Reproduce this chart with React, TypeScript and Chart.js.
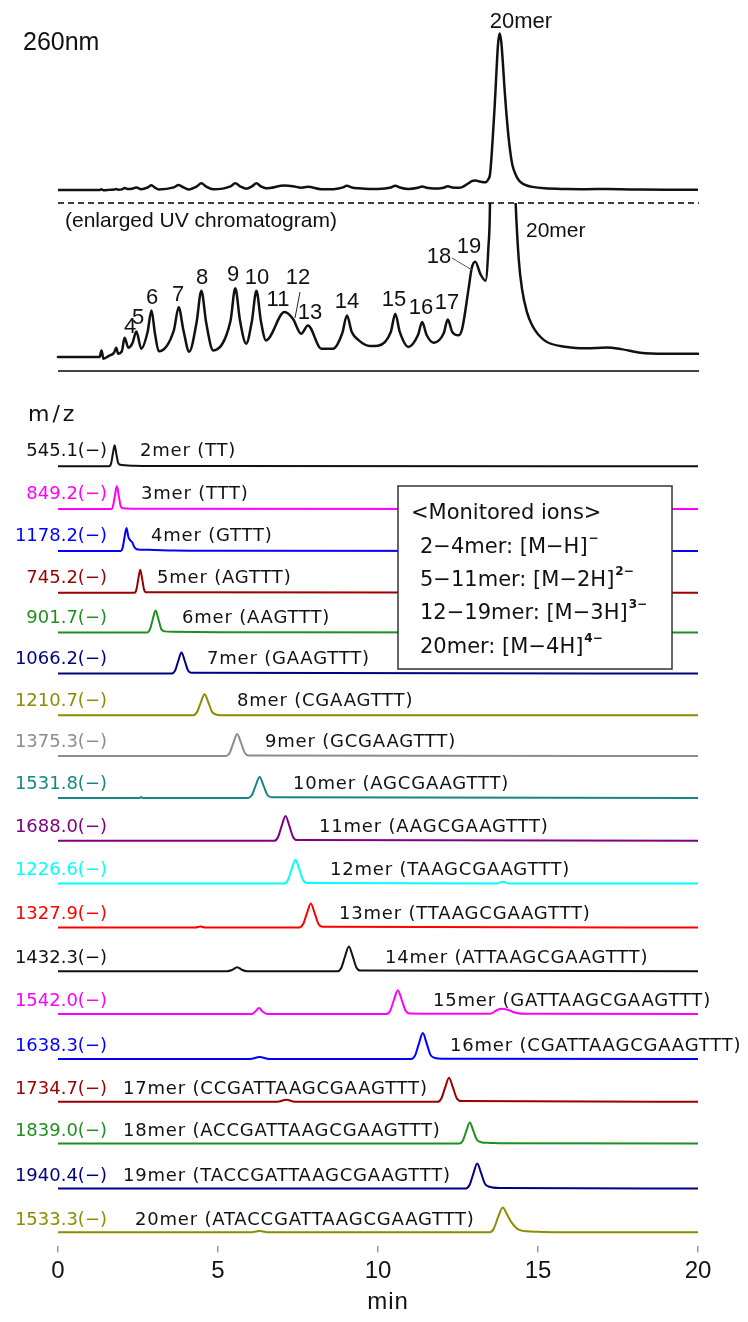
import React, { useEffect, useRef } from "react";
import { Chart, registerables } from "chart.js";

Chart.register(...registerables);

// ---------------- data ----------------
const TIME_MIN = 0;
const TIME_MAX = 20;
const TIME_STEP = 5;

// UV 260 nm chromatogram (time in min, absorbance in mAU)
const UV_TIME = [
  0, 1.3, 1.36, 1.42, 1.6, 1.75, 1.82, 1.88, 2.0, 2.08, 2.2, 2.32, 2.45, 2.6, 2.8, 2.92, 3.03, 3.15,
  3.62, 3.77, 3.92, 4.1, 4.33, 4.48, 4.63, 4.85, 5.39, 5.54, 5.69, 5.88, 6.06, 6.2, 6.34, 6.5, 7.08,
  7.34, 7.6, 7.81, 8.23, 8.6, 8.88, 9.03, 9.18, 9.4, 9.75, 10.0, 10.4, 10.54, 10.68, 10.95, 11.25,
  11.38, 11.52, 11.74, 12.05, 12.18, 12.32, 12.52, 12.63, 12.83, 12.93, 13.04, 13.2, 13.36, 13.45,
  13.5, 13.55, 13.6, 13.65, 13.7, 13.75, 13.8, 13.85, 13.9, 13.95, 14.0, 14.05, 14.1, 14.15, 14.2,
  14.3, 14.4, 14.5, 14.65, 14.82, 15.2, 15.9, 16.5, 17.15, 17.6, 18.2, 19.0, 20.0,
];
const UV_MAU = [
  0, 0, 0.42, -0.11, 0.08, 0.27, 0.59, 0.21, 0.4, 1.23, 0.59, 0.85, 1.63, 0.53, 1.6, 2.97, 1.5, 0.36,
  1.7, 3.18, 1.7, 0.34, 2.2, 4.24, 2.2, 0.42, 2.3, 4.39, 2.3, 0.85, 2.3, 4.24, 2.3, 1.06, 2.87,
  2.44, 1.48, 2.01, 0.53, 0.53, 1.5, 2.65, 1.6, 1.06, 0.7, 0.72, 1.6, 2.76, 1.6, 0.64, 1.4,
  2.23, 1.4, 0.91, 1.5, 2.39, 1.6, 1.38, 1.8, 4.35, 5.69, 6.09, 5.3, 4.88, 7.0,
  9.9, 22, 38, 55, 75, 93, 100, 95, 82, 66, 52, 40, 30, 22, 16,
  9.9, 6.2, 4.35, 2.9, 2.01, 1.06, 0.64, 0.55, 0.6, 0.5, 0.27, 0.21, 0.21,
];
const UV_ENLARGE = 10;

const UV_PEAK_LABELS = ["4", "5", "6", "7", "8", "9", "10", "11", "12", "13", "14", "15", "16", "17", "18", "19"];

// Extracted ion chromatograms: [time (min), relative intensity (%)]
const MER2 = [[0, 0], [1.6, 0], [1.66, 12], [1.715, 53], [1.77, 88], [1.825, 50], [1.88, 14], [1.95, 6], [2.1, 4], [2.4, 2], [3, 1], [5, 0.5], [20, 0]];
const MER3 = [[0, 0], [1.66, 0], [1.72, 13], [1.78, 58], [1.84, 96], [1.9, 55], [1.96, 12], [2.03, 3], [2.3, 1], [20, 0]];
const MER4 = [[0, 0], [1.96, 0], [2.02, 13], [2.08, 58], [2.14, 96], [2.2, 58], [2.26, 44], [2.32, 36], [2.39, 15], [2.46, 7], [2.6, 5], [3.0, 4], [3.6, 2], [5, 1], [20, 0]];
const MER5 = [[0, 0], [2.39, 0], [2.45, 13], [2.51, 58], [2.57, 96], [2.63, 58], [2.69, 13], [2.76, 2], [20, 0]];
const MER6 = [[0, 0], [2.78, 0], [2.87, 12], [2.96, 55], [3.05, 92], [3.14, 55], [3.23, 14], [3.33, 5], [3.6, 3], [5, 1], [20, 0]];
const MER7 = [[0, 0], [3.56, 0], [3.66, 12], [3.76, 53], [3.86, 88], [3.96, 53], [4.06, 13], [4.16, 3], [20, 0]];
const MER8 = [[0, 0], [4.22, 0], [4.34, 12], [4.46, 53], [4.58, 88], [4.7, 53], [4.82, 13], [4.94, 3], [5.08, 0], [20, 0]];
const MER9 = [[0, 0], [5.24, 0], [5.36, 12], [5.48, 55], [5.6, 92], [5.72, 55], [5.84, 13], [5.96, 2], [20, 0]];
const MER10 = [[0, 0], [2.55, 0], [2.6, 4], [2.65, 0], [5.94, 0], [6.06, 12], [6.18, 53], [6.3, 88], [6.42, 53], [6.54, 13], [6.66, 3], [20, 0]];
const MER11 = [[0, 0], [6.75, 0], [6.87, 14], [6.99, 62], [7.11, 104], [7.23, 62], [7.35, 15], [7.47, 3], [20, 0]];
const MER12 = [[0, 0], [7.06, 0], [7.18, 14], [7.3, 60], [7.42, 100], [7.54, 60], [7.66, 14], [7.78, 3], [13.7, 0], [13.9, 8], [14.1, 0], [20, 0]];
const MER13 = [[0, 0], [4.3, 0], [4.45, 4], [4.6, 0], [7.54, 0], [7.66, 14], [7.78, 60], [7.9, 100], [8.02, 60], [8.14, 14], [8.26, 3], [20, 0]];
const MER14 = [[0, 0], [5.3, 0], [5.45, 6], [5.6, 17], [5.75, 6], [5.9, 0], [8.73, 0], [8.85, 14], [8.97, 62], [9.09, 104], [9.21, 62], [9.33, 15], [9.45, 3], [20, 0]];
const MER15 = [[0, 0], [6.05, 0], [6.16, 10], [6.28, 25], [6.4, 10], [6.55, 0], [10.26, 0], [10.38, 14], [10.5, 60], [10.62, 100], [10.74, 60], [10.86, 15], [10.98, 3], [13.5, 1], [13.7, 15], [13.85, 22], [14.05, 18], [14.3, 6], [14.6, 1], [20, 0]];
const MER16 = [[0, 0], [6.0, 0], [6.3, 8], [6.6, 0], [11.04, 0], [11.16, 15], [11.28, 65], [11.4, 108], [11.52, 65], [11.64, 17], [11.78, 4], [12.0, 1], [20, 0]];
const MER17 = [[0, 0], [6.85, 0], [7.14, 8], [7.4, 0], [11.86, 0], [11.98, 14], [12.1, 60], [12.22, 100], [12.34, 60], [12.46, 15], [12.6, 3], [20, 0]];
const MER18 = [[0, 0], [12.54, 0], [12.65, 12], [12.76, 53], [12.87, 88], [12.98, 53], [13.09, 16], [13.22, 6], [13.5, 3], [13.9, 1], [20, 0]];
const MER19 = [[0, 0], [12.74, 0], [12.86, 14], [12.98, 62], [13.1, 104], [13.22, 65], [13.34, 20], [13.48, 7], [13.8, 2], [20, 0]];
const MER20 = [[0, 0], [6.0, 0], [6.3, 5], [6.6, 0], [13.5, 0], [13.62, 16], [13.76, 66], [13.9, 104], [14.04, 72], [14.18, 40], [14.32, 18], [14.46, 8], [14.65, 4], [15.0, 2], [15.5, 0.5], [20, 0]];

const MS_TRACES = [MER2, MER3, MER4, MER5, MER6, MER7, MER8, MER9, MER10, MER11, MER12, MER13, MER14, MER15, MER16, MER17, MER18, MER19, MER20];

const MZ_LABELS = [
  "545.1(−)", "849.2(−)", "1178.2(−)", "745.2(−)", "901.7(−)", "1066.2(−)", "1210.7(−)", "1375.3(−)",
  "1531.8(−)", "1688.0(−)", "1226.6(−)", "1327.9(−)", "1432.3(−)", "1542.0(−)", "1638.3(−)", "1734.7(−)",
  "1839.0(−)", "1940.4(−)", "1533.3(−)",
];
const MER_NAMES = [
  "2mer (TT)", "3mer (TTT)", "4mer (GTTT)", "5mer (AGTTT)", "6mer (AAGTTT)", "7mer (GAAGTTT)",
  "8mer (CGAAGTTT)", "9mer (GCGAAGTTT)", "10mer (AGCGAAGTTT)", "11mer (AAGCGAAGTTT)",
  "12mer (TAAGCGAAGTTT)", "13mer (TTAAGCGAAGTTT)", "14mer (ATTAAGCGAAGTTT)", "15mer (GATTAAGCGAAGTTT)",
  "16mer (CGATTAAGCGAAGTTT)", "17mer (CCGATTAAGCGAAGTTT)", "18mer (ACCGATTAAGCGAAGTTT)",
  "19mer (TACCGATTAAGCGAAGTTT)", "20mer (ATACCGATTAAGCGAAGTTT)",
];
const ION_TITLE = "<Monitored ions>";
const ION_LINES = ["2−4mer: [M−H]", "5−11mer: [M−2H]", "12−19mer: [M−3H]", "20mer: [M−4H]"];
const ION_CHARGES = ["−", "2−", "3−", "4−"];

// ---------------- layout & style ----------------
const W = 748;
const H = 1322;
const AREA_TOP = 10;
const AREA_BOTTOM = 1251;
const UV_BASE_PX = 190.7;
const UV_PX_PER_MAU = 1.57;
const ENL_BASE_PX = 358.3;
const ENL_CLIP_PX = 203;
const MS_BASE_PX = [468, 511, 553, 595, 635, 676, 718, 759, 801, 844, 887, 931, 975, 1018, 1063, 1106, 1148, 1193, 1237];
const MS_PX_PER_PCT = 0.24;
const MS_NAME_X = [140, 141, 151, 157, 182, 207, 237, 265, 293, 319, 330, 339, 385, 433, 450, 123, 123, 123, 135];
const UV_PEAK_LABEL_POS = [
  [130, 327], [138, 318], [152, 298], [178, 295], [202, 278], [233, 275], [257, 278], [278, 300],
  [298, 278], [310, 313], [347, 302], [394, 300], [421, 308], [447, 303], [439, 257], [469, 247],
];
const MS_COLORS = [
  "#111111", "#ff00ff", "#0000ff", "#990000", "#1f8f1f", "#000080", "#8c8c00", "#8c8c8c", "#188585",
  "#800080", "#00ffff", "#ff0000", "#111111", "#ff00ff", "#0000ff", "#990000", "#1f8f1f", "#000080", "#8c8c00",
];
const ARIAL = "'Liberation Sans', Arial, sans-serif";
const DEJAVU = "'DejaVu Sans', sans-serif";

const toChartY = (px: number) => AREA_BOTTOM - px;

function drawText(
  ctx: CanvasRenderingContext2D,
  s: string,
  x: number,
  y: number,
  font: string,
  color = "#111",
  align: CanvasTextAlign = "left",
  spacing = "0px"
) {
  ctx.font = font;
  ctx.fillStyle = color;
  ctx.textAlign = align;
  ctx.textBaseline = "middle";
  (ctx as any).letterSpacing = spacing;
  ctx.fillText(s, x, y);
  (ctx as any).letterSpacing = "0px";
}

const clipPlugin = {
  id: "enlargedClip",
  beforeDatasetDraw(chart: any, args: any) {
    const ds = chart.data.datasets[args.index];
    if (ds.enlarged) {
      const ctx = chart.ctx;
      ctx.save();
      ctx.beginPath();
      ctx.rect(0, ENL_CLIP_PX, W, H - ENL_CLIP_PX);
      ctx.clip();
    }
  },
  afterDatasetDraw(chart: any, args: any) {
    const ds = chart.data.datasets[args.index];
    if (ds.enlarged) chart.ctx.restore();
  },
};

const annotationPlugin = {
  id: "annotations",
  afterDatasetsDraw(chart: any) {
    const ctx: CanvasRenderingContext2D = chart.ctx;
    const { left, right } = chart.chartArea;
    ctx.save();

    // top panel texts
    drawText(ctx, "260nm", 23, 43, `25px ${ARIAL}`);
    drawText(ctx, "20mer", 521, 22, `22px ${ARIAL}`, "#111", "center");

    // dashed separator
    ctx.strokeStyle = "#000";
    ctx.lineWidth = 1.5;
    ctx.setLineDash([6, 4]);
    ctx.beginPath();
    ctx.moveTo(left, ENL_CLIP_PX);
    ctx.lineTo(right + 1, ENL_CLIP_PX);
    ctx.stroke();
    ctx.setLineDash([]);

    drawText(ctx, "(enlarged UV chromatogram)", 65, 221, `21px ${ARIAL}`);
    drawText(ctx, "20mer", 526, 231, `21px ${ARIAL}`);
    UV_PEAK_LABELS.forEach((s, i) => {
      const [x, y] = UV_PEAK_LABEL_POS[i];
      drawText(ctx, s, x, y, `22px ${ARIAL}`, "#111", "center");
    });
    // leader lines
    ctx.lineWidth = 1;
    ctx.strokeStyle = "#222";
    ctx.beginPath();
    ctx.moveTo(300, 292);
    ctx.lineTo(295, 318);
    ctx.stroke();
    ctx.strokeStyle = "#555";
    ctx.beginPath();
    ctx.moveTo(452, 258);
    ctx.lineTo(472, 270);
    ctx.stroke();

    // bottom line of UV panel
    ctx.strokeStyle = "#444";
    ctx.lineWidth = 2;
    ctx.beginPath();
    ctx.moveTo(left, 371);
    ctx.lineTo(right + 1, 371);
    ctx.stroke();

    // m/z header
    drawText(ctx, "m/z", 28, 415, `22px ${DEJAVU}`, "#111", "left", "3px");

    // trace labels
    MS_BASE_PX.forEach((base, i) => {
      const y = base - 17;
      drawText(ctx, MZ_LABELS[i], 107, y, `18px ${DEJAVU}`, MS_COLORS[i], "right");
      drawText(ctx, MER_NAMES[i], MS_NAME_X[i], y, `18px ${DEJAVU}`, "#111", "left", "0.8px");
    });

    // monitored ions box
    ctx.fillStyle = "#fff";
    ctx.fillRect(398, 486, 274, 183);
    ctx.strokeStyle = "#333";
    ctx.lineWidth = 1.5;
    ctx.strokeRect(398, 486, 274, 183);
    drawText(ctx, ION_TITLE, 411, 514, `21px ${DEJAVU}`);
    const lineY = [548, 581, 614, 648];
    ION_LINES.forEach((s, i) => {
      drawText(ctx, s, 420, lineY[i], `21px ${DEJAVU}`);
      ctx.font = `21px ${DEJAVU}`;
      const w = ctx.measureText(s).width;
      drawText(ctx, ION_CHARGES[i], 420 + w + 1, lineY[i] - 9, `bold 12px ${DEJAVU}`);
    });

    // x-axis title
    drawText(ctx, "min", 388, 1302, `24px ${ARIAL}`, "#111", "center", "1px");
    ctx.restore();
  },
};

export default function App() {
  const ref = useRef<HTMLCanvasElement | null>(null);

  useEffect(() => {
    if (!ref.current) return;
    const datasets: any[] = [];
    datasets.push({
      data: UV_TIME.map((t, i) => ({ x: t, y: toChartY(UV_BASE_PX) + UV_MAU[i] * UV_PX_PER_MAU })),
      borderColor: "#111",
      borderWidth: 2.5,
    });
    datasets.push({
      enlarged: true,
      data: UV_TIME.map((t, i) => ({ x: t, y: toChartY(ENL_BASE_PX) + UV_MAU[i] * UV_PX_PER_MAU * UV_ENLARGE })),
      borderColor: "#111",
      borderWidth: 2.5,
      clip: false,
    });
    MS_TRACES.forEach((trace, k) => {
      datasets.push({
        data: trace.map(([t, v]) => ({ x: t, y: toChartY(MS_BASE_PX[k]) + v * MS_PX_PER_PCT })),
        borderColor: MS_COLORS[k],
        borderWidth: 2,
      });
    });

    const chart = new Chart(ref.current, {
      type: "line",
      data: { datasets },
      options: {
        responsive: false,
        animation: false,
        devicePixelRatio: 1,
        layout: { padding: { left: 58, right: 50, top: AREA_TOP, bottom: 31 } },
        plugins: { legend: { display: false }, tooltip: { enabled: false } },
        elements: {
          point: { radius: 0 },
          line: { cubicInterpolationMode: "monotone", borderJoinStyle: "round", borderCapStyle: "round" },
        },
        scales: {
          x: {
            type: "linear",
            min: TIME_MIN,
            max: TIME_MAX,
            ticks: { stepSize: TIME_STEP, color: "#111", padding: 5, font: { family: ARIAL, size: 24 } },
            grid: { display: true, drawOnChartArea: false, drawTicks: true, tickLength: 6, color: "#999", lineWidth: 1.5 },
            border: { display: false },
          },
          y: { type: "linear", display: false, min: 0, max: AREA_BOTTOM - AREA_TOP },
        },
      } as any,
      plugins: [clipPlugin, annotationPlugin],
    });
    return () => chart.destroy();
  }, []);

  return (
    <div style={{ position: "absolute", left: 0, top: 0, width: W, height: H, background: "#fff" }}>
      <canvas ref={ref} width={W} height={H} style={{ display: "block", width: W, height: H }} />
    </div>
  );
}
